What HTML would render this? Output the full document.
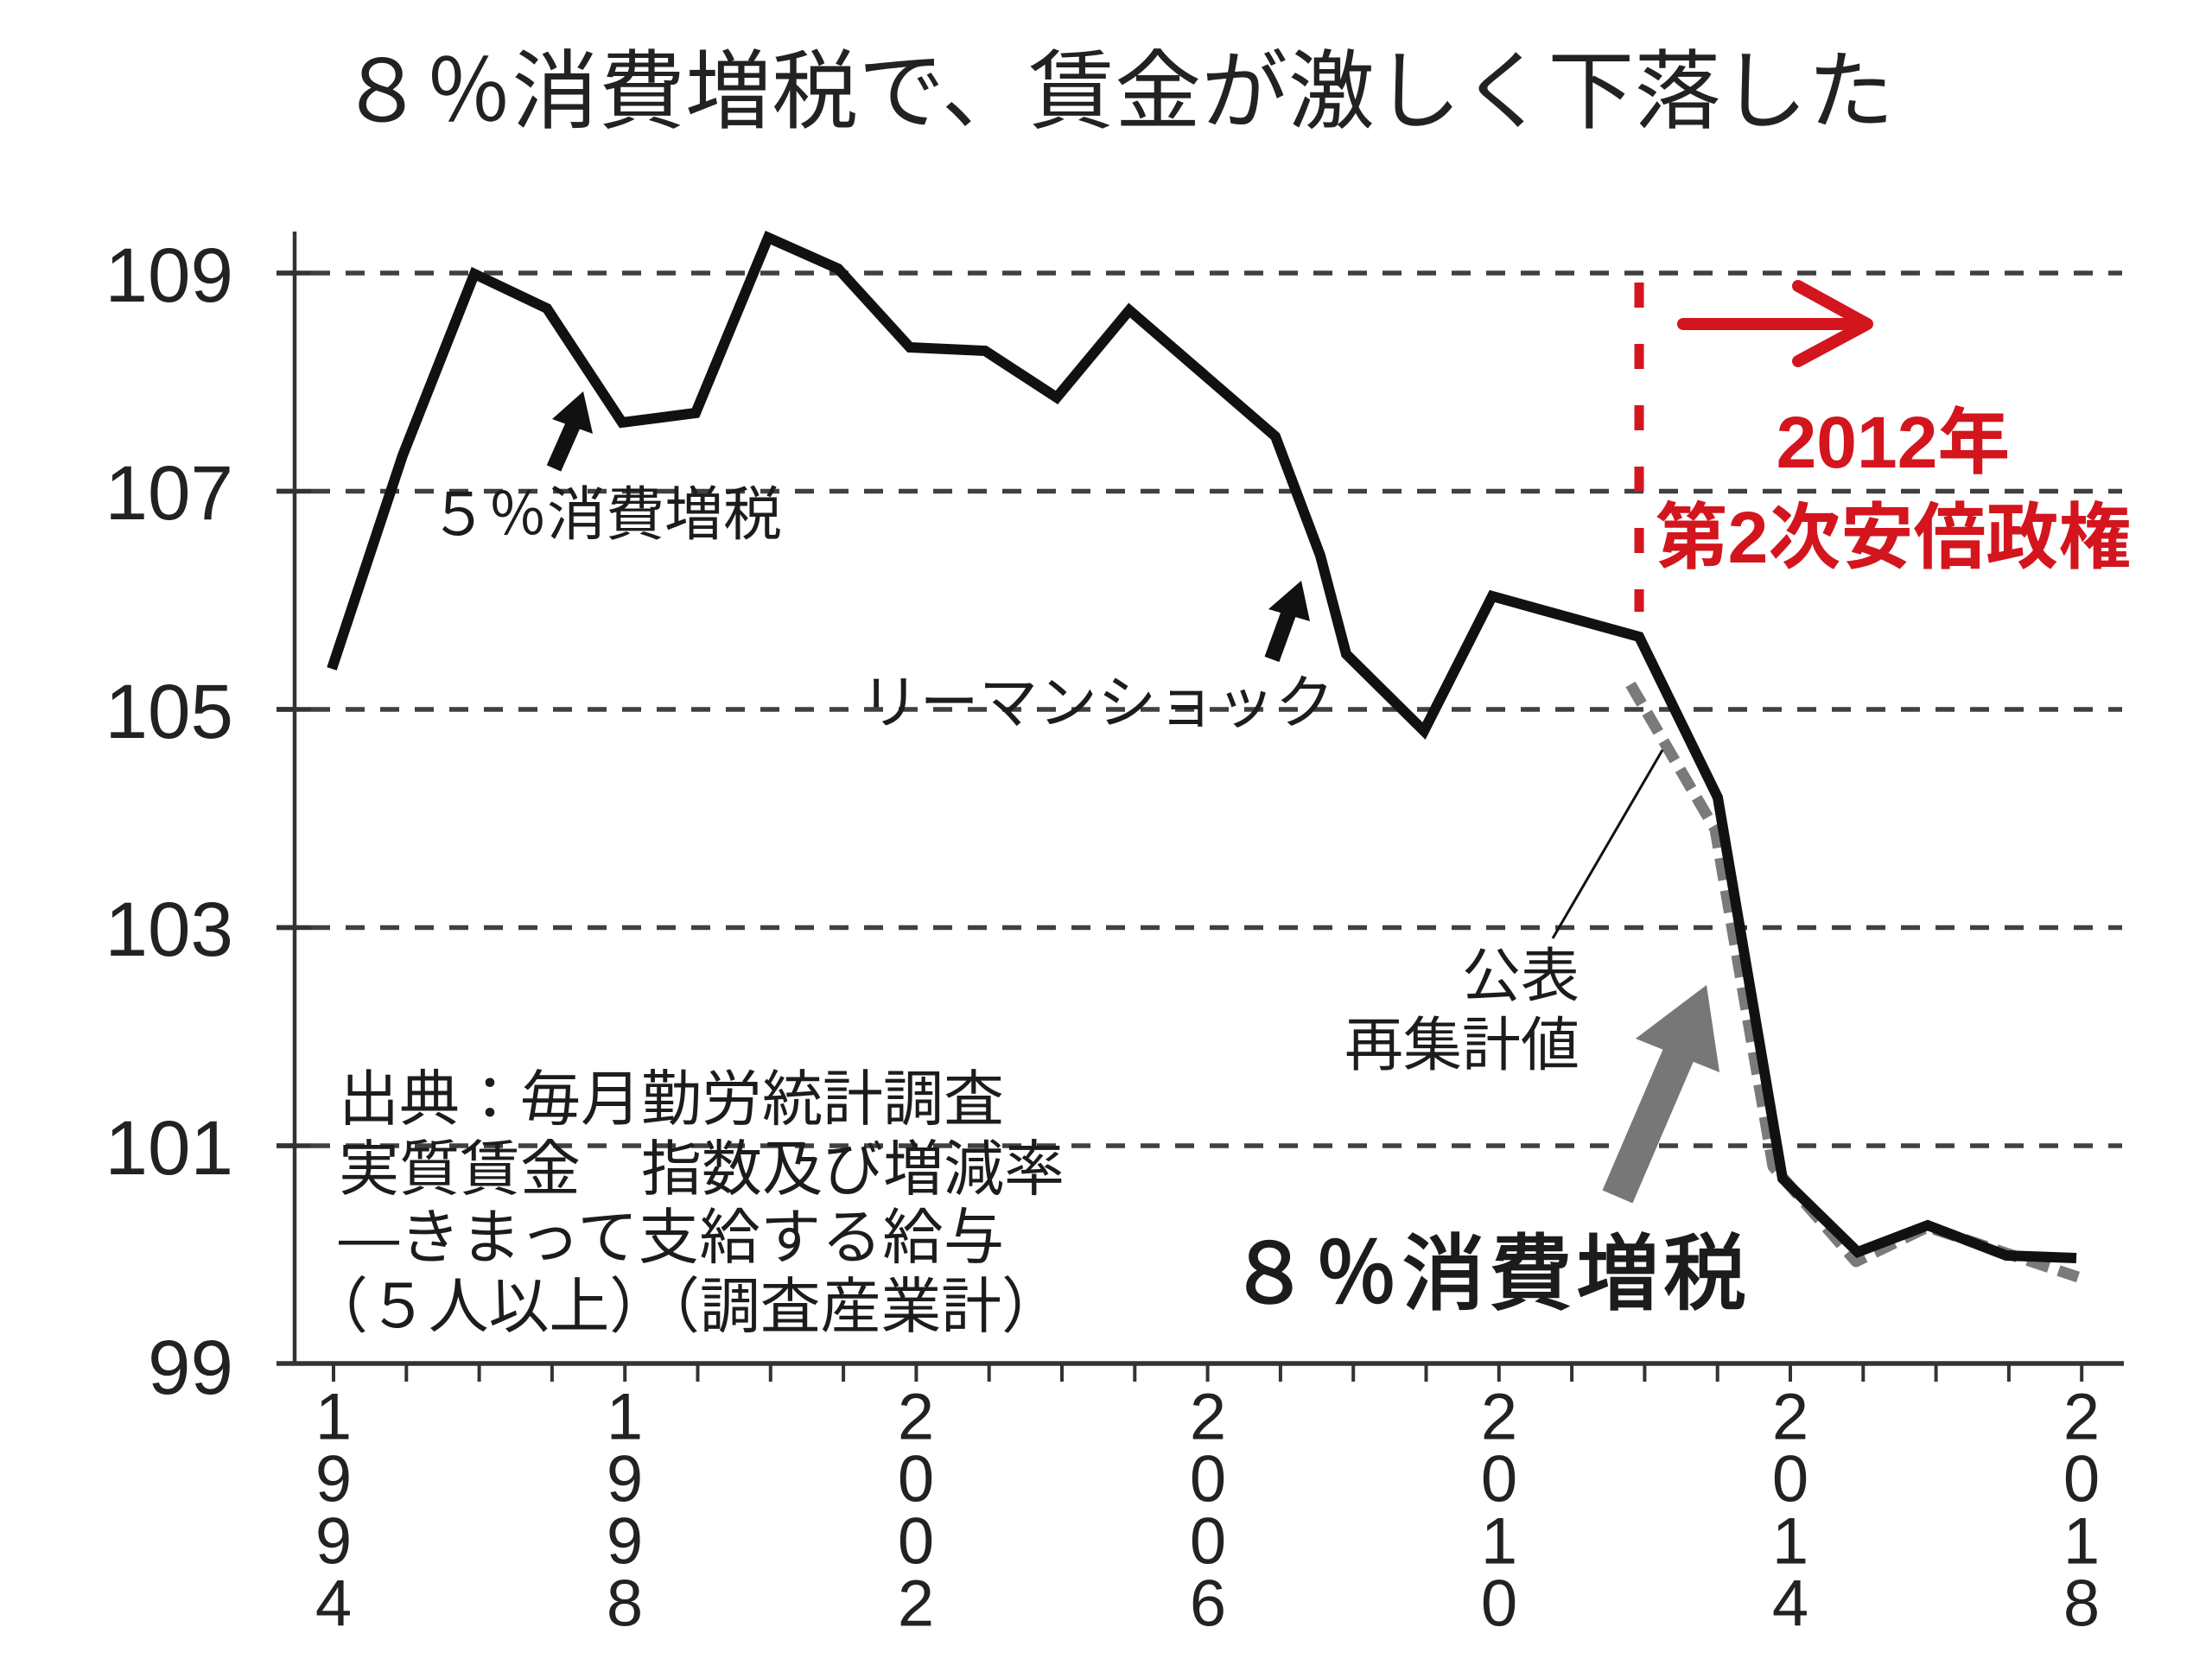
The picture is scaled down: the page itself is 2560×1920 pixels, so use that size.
<!DOCTYPE html>
<html>
<head>
<meta charset="utf-8">
<style>
  html,body{margin:0;padding:0;background:#fff;}
  svg{display:block;}
  text{font-family:"Liberation Sans","Noto Sans CJK JP",sans-serif;}
  .cjk{font-family:"Noto Sans CJK JP","Liberation Sans",sans-serif;}
</style>
</head>
<body>
<svg width="2560" height="1920" viewBox="0 0 2560 1920" xmlns="http://www.w3.org/2000/svg">
  <rect x="0" y="0" width="2560" height="1920" fill="#ffffff"/>

  <!-- Title -->
  <text class="cjk" x="392" y="97" font-size="100" fill="#222" dominant-baseline="central" textLength="1800">８％消費増税で、賃金が激しく下落した</text>

  <!-- Gridlines -->
  <g stroke="#404040" stroke-width="5.5" stroke-dasharray="22 18" fill="none">
    <line x1="320" y1="316" x2="2456" y2="316"/>
    <line x1="320" y1="568.5" x2="2456" y2="568.5"/>
    <line x1="320" y1="821" x2="2456" y2="821"/>
    <line x1="320" y1="1073.5" x2="2456" y2="1073.5"/>
    <line x1="320" y1="1326" x2="2456" y2="1326"/>
  </g>
  <!-- y ticks -->
  <g stroke="#333" stroke-width="5.5">
    <line x1="320" y1="316" x2="360" y2="316"/>
    <line x1="320" y1="568.5" x2="360" y2="568.5"/>
    <line x1="320" y1="821" x2="360" y2="821"/>
    <line x1="320" y1="1073.5" x2="360" y2="1073.5"/>
    <line x1="320" y1="1326" x2="360" y2="1326"/>
  </g>

  <!-- Axes -->
  <line x1="341" y1="268" x2="341" y2="1580" stroke="#333" stroke-width="4.5"/>
  <line x1="320" y1="1578" x2="2458" y2="1578" stroke="#333" stroke-width="5.5"/>
  <g stroke="#333" stroke-width="4">
    <line x1="386" y1="1578" x2="386" y2="1599"/>
    <line x1="470.3" y1="1578" x2="470.3" y2="1599"/>
    <line x1="554.6" y1="1578" x2="554.6" y2="1599"/>
    <line x1="638.9" y1="1578" x2="638.9" y2="1599"/>
    <line x1="723.2" y1="1578" x2="723.2" y2="1599"/>
    <line x1="807.5" y1="1578" x2="807.5" y2="1599"/>
    <line x1="891.8" y1="1578" x2="891.8" y2="1599"/>
    <line x1="976.1" y1="1578" x2="976.1" y2="1599"/>
    <line x1="1060.4" y1="1578" x2="1060.4" y2="1599"/>
    <line x1="1144.7" y1="1578" x2="1144.7" y2="1599"/>
    <line x1="1229" y1="1578" x2="1229" y2="1599"/>
    <line x1="1313.3" y1="1578" x2="1313.3" y2="1599"/>
    <line x1="1397.6" y1="1578" x2="1397.6" y2="1599"/>
    <line x1="1481.9" y1="1578" x2="1481.9" y2="1599"/>
    <line x1="1566.2" y1="1578" x2="1566.2" y2="1599"/>
    <line x1="1650.5" y1="1578" x2="1650.5" y2="1599"/>
    <line x1="1734.8" y1="1578" x2="1734.8" y2="1599"/>
    <line x1="1819.1" y1="1578" x2="1819.1" y2="1599"/>
    <line x1="1903.4" y1="1578" x2="1903.4" y2="1599"/>
    <line x1="1987.7" y1="1578" x2="1987.7" y2="1599"/>
    <line x1="2072" y1="1578" x2="2072" y2="1599"/>
    <line x1="2156.3" y1="1578" x2="2156.3" y2="1599"/>
    <line x1="2240.6" y1="1578" x2="2240.6" y2="1599"/>
    <line x1="2324.9" y1="1578" x2="2324.9" y2="1599"/>
    <line x1="2409.2" y1="1578" x2="2409.2" y2="1599"/>
  </g>

  <!-- Y labels -->
  <g font-size="89" fill="#222" text-anchor="end" dominant-baseline="central">
    <text x="270" y="318">109</text>
    <text x="270" y="570">107</text>
    <text x="270" y="823">105</text>
    <text x="270" y="1075">103</text>
    <text x="270" y="1328">101</text>
    <text x="270" y="1582">99</text>
  </g>

  <!-- X labels (stacked digits) -->
  <g font-size="76" fill="#222" text-anchor="middle" dominant-baseline="central">
    <text x="386" y="1640">1</text><text x="386" y="1712">9</text><text x="386" y="1784">9</text><text x="386" y="1856">4</text>
    <text x="723" y="1640">1</text><text x="723" y="1712">9</text><text x="723" y="1784">9</text><text x="723" y="1856">8</text>
    <text x="1060" y="1640">2</text><text x="1060" y="1712">0</text><text x="1060" y="1784">0</text><text x="1060" y="1856">2</text>
    <text x="1398" y="1640">2</text><text x="1398" y="1712">0</text><text x="1398" y="1784">0</text><text x="1398" y="1856">6</text>
    <text x="1735" y="1640">2</text><text x="1735" y="1712">0</text><text x="1735" y="1784">1</text><text x="1735" y="1856">0</text>
    <text x="2072" y="1640">2</text><text x="2072" y="1712">0</text><text x="2072" y="1784">1</text><text x="2072" y="1856">4</text>
    <text x="2409" y="1640">2</text><text x="2409" y="1712">0</text><text x="2409" y="1784">1</text><text x="2409" y="1856">8</text>
  </g>

  <!-- Gray dashed series (re-aggregated) -->
  <polyline fill="none" stroke="#7a7a7a" stroke-width="13" stroke-dasharray="26 12" stroke-linejoin="round"
    points="1887,792 1950,900 1985,960 2052,1350 2148,1460 2231,1420 2324,1451 2405,1478"/>

  <!-- Black main series -->
  <polyline fill="none" stroke="#111" stroke-width="12" stroke-linejoin="miter" stroke-miterlimit="4"
    points="384,774 466,527 549,317 633,357 720,489 805,478 889,275 970,311 1053,402 1140,406 1223,460 1307,359 1476,505 1528,643 1558,757 1648,846 1727,690 1897,737 1988,923 2063,1364 2150,1449 2231,1418 2322,1453 2403,1456"/>

  <!-- Thin connector line -->
  <line x1="1797" y1="1086" x2="1924" y2="868" stroke="#111" stroke-width="3"/>

  <!-- Small black arrows -->
  <line x1="641" y1="542" x2="664" y2="490" stroke="#111" stroke-width="18"/>
  <polygon points="675,453 639,485 686,502" fill="#111"/>
  <line x1="1472" y1="763" x2="1492" y2="708" stroke="#111" stroke-width="18"/>
  <polygon points="1506,672 1468,705 1516,719" fill="#111"/>

  <!-- Big gray arrow -->
  <line x1="1872" y1="1385" x2="1945" y2="1215" stroke="#777" stroke-width="38"/>
  <polygon points="1975,1140 1893,1202 1990,1241" fill="#777"/>

  <!-- Annotations -->
  <g class="cjk" fill="#1c1c1c" dominant-baseline="central">
    <text x="497" y="596" font-size="68" textLength="408">５％消費増税</text>
    <text x="996" y="814" font-size="68" textLength="548">リーマンショック</text>
    <text x="1828" y="1130" font-size="68" text-anchor="end">公表</text>
    <text x="1828" y="1210" font-size="68" text-anchor="end">再集計値</text>
    <text x="392" y="1272" font-size="70" textLength="770">出典：毎月勤労統計調査</text>
    <text x="392" y="1353" font-size="70" textLength="840">実質賃金　指数及び増減率</text>
    <text x="392" y="1432" font-size="70" textLength="770">―きまって支給する給与</text>
    <text x="356" y="1512" font-size="70" textLength="873">（５人以上）（調査産業計）</text>
    <text x="1421" y="1475" font-size="96" textLength="600" stroke="#1c1c1c" stroke-width="2.5">８％消費増税</text>
  </g>

  <!-- Red annotation -->
  <line x1="1897" y1="327" x2="1897" y2="708" stroke="#d3151e" stroke-width="11" stroke-dasharray="29 42"/>
  <g stroke="#d3151e" stroke-width="14" stroke-linecap="round" stroke-linejoin="round" fill="none">
    <line x1="1948" y1="375" x2="2159" y2="375"/>
    <polyline points="2081,331 2161,375 2081,418"/>
  </g>
  <g class="cjk" fill="#d3151e" font-weight="700" font-size="84" text-anchor="middle" dominant-baseline="central">
    <text x="2191" y="512">2012年</text>
    <text x="2191" y="622">第2次安倍政権</text>
  </g>
</svg>
</body>
</html>
